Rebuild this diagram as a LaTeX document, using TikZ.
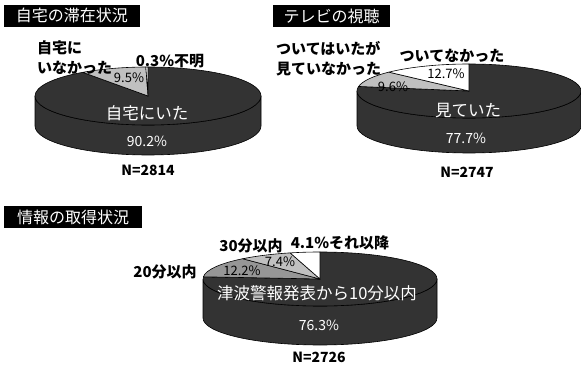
\documentclass[tikz,border=0pt]{standalone}
\usepackage{fontspec}
\setmainfont{Noto Sans CJK JP}
\definecolor{piedark}{HTML}{333333}
\definecolor{piemid}{HTML}{969696}
\definecolor{pielight}{HTML}{C0C0C0}

\begin{document}
\begin{tikzpicture}[x=1pt,y=1pt,
  slice/.style={draw=black,line width=0.6pt,line join=round},
  title/.style={fill=black,text=white,inner sep=0pt,minimum height=22pt,font=\fontsize{16}{16}\selectfont},
  outlab/.style={inner sep=0pt,align=left,font=\bfseries\fontsize{15}{20}\selectfont},
  pct/.style={inner sep=0pt,font=\fontsize{13}{13}\selectfont},
  inlab/.style={inner sep=0pt,text=white,font=\fontsize{16.5}{16.5}\selectfont},
  inpct/.style={inner sep=0pt,text=white,font=\fontsize{14}{14}\selectfont},
  total/.style={inner sep=0pt,font=\bfseries\fontsize{14}{14}\selectfont}]

\useasboundingbox (0,0) rectangle (581,367);

\coordinate (c1) at (148,271);
\coordinate (c2) at (469,276);
\coordinate (c3) at (320,88);

\filldraw[slice,fill=piedark] (35,271) -- ++(0,-30) arc[start angle=180,end angle=360,x radius=113,y radius=29] -- ++(0,30) arc[start angle=0,end angle=-180,x radius=113,y radius=29] -- cycle;
\filldraw[slice,fill=piedark] (c1) -- ++(90:113 and 29) arc[start angle=90,end angle=-234.7,x radius=113,y radius=29] -- cycle;
\filldraw[slice,fill=pielight] (c1) -- ++(125.3:113 and 29) arc[start angle=125.3,end angle=91.1,x radius=113,y radius=29] -- cycle;
\filldraw[slice,fill=white] (c1) -- ++(91.1:113 and 29) arc[start angle=91.1,end angle=90,x radius=113,y radius=29] -- cycle;

\filldraw[slice,fill=piedark] (357,276) -- ++(0,-35) arc[start angle=180,end angle=360,x radius=112,y radius=27] -- ++(0,35) arc[start angle=0,end angle=-180,x radius=112,y radius=27] -- cycle;
\filldraw[slice,fill=piedark] (c2) -- ++(90:112 and 27) arc[start angle=90,end angle=-189.7,x radius=112,y radius=27] -- cycle;
\filldraw[slice,fill=pielight] (c2) -- ++(170.3:112 and 27) arc[start angle=170.3,end angle=135.7,x radius=112,y radius=27] -- cycle;
\filldraw[slice,fill=white] (c2) -- ++(135.7:112 and 27) arc[start angle=135.7,end angle=90,x radius=112,y radius=27] -- cycle;

\filldraw[slice,fill=piedark] (203,88) -- ++(0,-39) arc[start angle=180,end angle=360,x radius=117,y radius=27] -- ++(0,39) arc[start angle=0,end angle=-180,x radius=117,y radius=27] -- cycle;
\filldraw[slice,fill=piedark] (c3) -- ++(90:117 and 27) arc[start angle=90,end angle=-184.7,x radius=117,y radius=27] -- cycle;
\filldraw[slice,fill=piemid] (c3) -- ++(175.3:117 and 27) arc[start angle=175.3,end angle=131.4,x radius=117,y radius=27] -- cycle;
\filldraw[slice,fill=pielight] (c3) -- ++(131.4:117 and 27) arc[start angle=131.4,end angle=104.8,x radius=117,y radius=27] -- cycle;
\filldraw[slice,fill=white] (c3) -- ++(104.8:117 and 27) arc[start angle=104.8,end angle=90,x radius=117,y radius=27] -- cycle;

\node[title,minimum width=136pt] (stay) at (72,351) {自宅の滞在状況};
\node[outlab,anchor=west] (away) at (37,309.5) {自宅に\\いなかった};
\node[outlab] (unknown) at (170,306) {0.3\%不明};
\node[pct] (awaypct) at (129,289) {9.5\%};
\node[inlab] (home) at (147,254) {自宅にいた};
\node[inpct] (homepct) at (147,226) {90.2\%};
\node[total] (n1) at (148,197) {N=2814};

\node[title,minimum width=117pt] (tv) at (331.5,351) {テレビの視聴};
\node[outlab,anchor=west] (notwatch) at (276,308) {ついてはいたが\\見ていなかった};
\node[outlab] (off) at (452,311) {ついてなかった};
\node[pct] (offpct) at (446,293) {12.7\%};
\node[pct] (notwatchpct) at (393,280) {9.6\%};
\node[inlab] (watch) at (468,256) {見ていた};
\node[inpct] (watchpct) at (466,229) {77.7\%};
\node[total] (n2) at (467,195) {N=2747};

\node[title,minimum width=138pt] (info) at (73,149.5) {情報の取得状況};
\node[outlab] (min20) at (165,95) {20分以内};
\node[outlab] (min30) at (251,121) {30分以内};
\node[outlab] (later) at (340,124) {4.1\%それ以降};
\node[pct] (min20pct) at (242,96) {12.2\%};
\node[pct] (min30pct) at (280,105) {7.4\%};
\node[inlab] (min10) at (317,74) {津波警報発表から10分以内};
\node[inpct] (min10pct) at (319,42) {76.3\%};
\node[total] (n3) at (319,10) {N=2726};
\end{tikzpicture}
\end{document}
